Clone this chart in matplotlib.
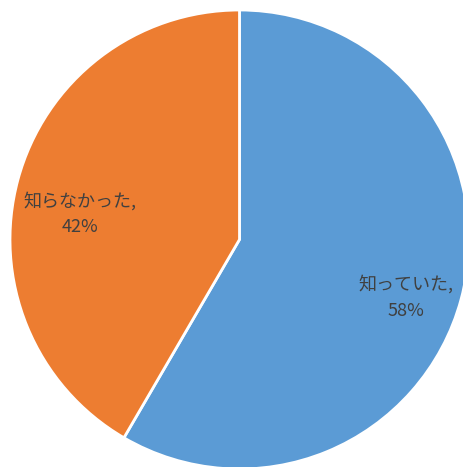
import matplotlib.pyplot as plt

plt.rcParams['font.family'] = ['Noto Sans CJK JP', 'DejaVu Sans']

labels = ['知っていた,', '知らなかった,']
shares = [58.4, 41.6]
colors = ['#5B9BD5', '#ED7D31']

W, H = 464, 467
fig = plt.figure(figsize=(W / 100, H / 100), dpi=100)
ax = fig.add_axes([0, 0, 1, 1])

cx, cy, r = 239.5, H - 239.5, 229.5
wedges, texts = ax.pie(shares, colors=colors, startangle=90, counterclock=False,
                       center=(cx, cy), radius=r, frame=True,
                       wedgeprops=dict(edgecolor='white', linewidth=2))
ax.set_xlim(0, W)
ax.set_ylim(0, H)
ax.set_aspect('equal')
ax.axis('off')

# label positions (pixel coords from the reference)
label_pos = [(406, H - 297.5), (80, H - 214)]
for lab, s, (x, y) in zip(labels, shares, label_pos):
    ax.text(x, y, f'{lab}\n{round(s)}%', ha='center', va='center', fontsize=13,
            color='#404040', linespacing=1.55)

fig.savefig('out.png', dpi=100)
